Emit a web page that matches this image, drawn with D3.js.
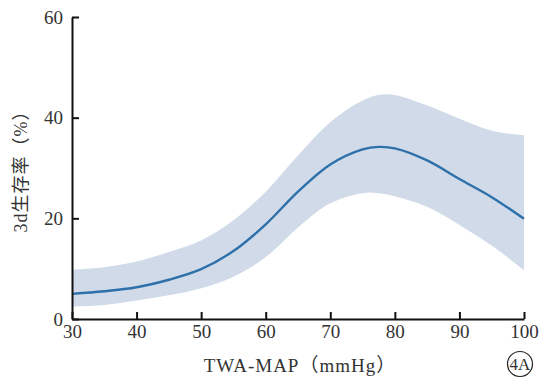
<!DOCTYPE html>
<html lang="zh">
<head>
<meta charset="UTF-8">
<script src="https://d3js.org/d3.v7.min.js"></script>
<style>
  body { margin: 0; background: #fff; }
  svg text { font-family: "Liberation Serif", "Noto Sans CJK SC", serif; fill: #333; }
</style>
</head>
<body>
<script>
// values
var mapValues = [30, 35, 40, 45, 50, 55, 60, 65, 70, 75, 77.5, 80, 85, 90, 95, 100];
var survival  = [5.0, 5.5, 6.3, 7.8, 9.9, 13.5, 18.8, 25.3, 30.7, 33.7, 34.2, 33.9, 31.5, 27.8, 24.2, 19.9];
var upperCI   = [9.8, 10.3, 11.4, 13.3, 15.6, 19.6, 25.3, 32.5, 39.1, 43.4, 44.5, 44.5, 42.4, 39.8, 37.4, 36.5];
var lowerCI   = [2.5, 2.8, 3.7, 4.7, 6.1, 8.4, 12.3, 18.2, 23.0, 25.0, 25.0, 24.4, 22.3, 18.7, 14.6, 9.7];
var xTicks = [30, 40, 50, 60, 70, 80, 90, 100];
var yTicks = [0, 20, 40, 60];

var W = 539, H = 378;
var margin = {top: 17, right: 15, bottom: 59, left: 72};

var svg = d3.select("body").append("svg")
    .attr("width", W)
    .attr("height", H);

var x = d3.scaleLinear().domain([30, 100]).range([margin.left, W - margin.right]);
var y = d3.scaleLinear().domain([0, 60]).range([H - margin.bottom, margin.top]);

var data = mapValues.map(function (d, i) {
    return {x: d, y: survival[i], lo: lowerCI[i], hi: upperCI[i]};
});

var smooth = d3.curveCatmullRom.alpha(0.5);

// confidence band
svg.append("path")
    .datum(data)
    .attr("fill", "#d0dae8")
    .attr("d", d3.area()
        .curve(smooth)
        .x(function (d) { return x(d.x); })
        .y0(function (d) { return y(d.lo); })
        .y1(function (d) { return y(d.hi); }));

// fitted curve
svg.append("path")
    .datum(data)
    .attr("fill", "none")
    .attr("stroke", "#2d70aa")
    .attr("stroke-width", 2.4)
    .attr("d", d3.line()
        .curve(smooth)
        .x(function (d) { return x(d.x); })
        .y(function (d) { return y(d.y); }));

var xAxis = svg.append("g")
    .attr("transform", "translate(0," + (H - margin.bottom) + ")")
    .call(d3.axisBottom(x).tickValues(xTicks).tickSizeInner(-7).tickSizeOuter(0).tickPadding(6));

var yAxis = svg.append("g")
    .attr("transform", "translate(" + margin.left + ",0)")
    .call(d3.axisLeft(y).tickValues(yTicks).tickSizeInner(-7).tickSizeOuter(0).tickPadding(9));

[xAxis, yAxis].forEach(function (g) {
    g.attr("font-family", "Liberation Serif").attr("font-size", 19);
    g.select(".domain").attr("stroke", "#111").attr("stroke-width", 2);
    g.selectAll(".tick line").attr("stroke", "#111").attr("stroke-width", 2);
    g.selectAll(".tick text")
        .style("font-family", "'Liberation Serif', serif")
        .style("font-size", "19px")
        .attr("fill", "#333");
});

// axis titles
svg.append("text")
    .attr("x", 300)
    .attr("y", 372)
    .attr("text-anchor", "middle")
    .style("font-size", "19px")
    .style("letter-spacing", "1px")
    .text("TWA-MAP（mmHg）");

svg.append("text")
    .attr("transform", "translate(27,167) rotate(-90)")
    .attr("text-anchor", "middle")
    .style("font-size", "18px")
    .style("letter-spacing", "1px")
    .text("3d生存率（%）");

// panel label
svg.append("circle")
    .attr("cx", 520)
    .attr("cy", 364)
    .attr("r", 12.5)
    .attr("fill", "none")
    .attr("stroke", "#222")
    .attr("stroke-width", 1.2);

svg.append("text")
    .attr("x", 520)
    .attr("y", 370)
    .attr("text-anchor", "middle")
    .style("font-size", "17px")
    .text("4A");
</script>
</body>
</html>
